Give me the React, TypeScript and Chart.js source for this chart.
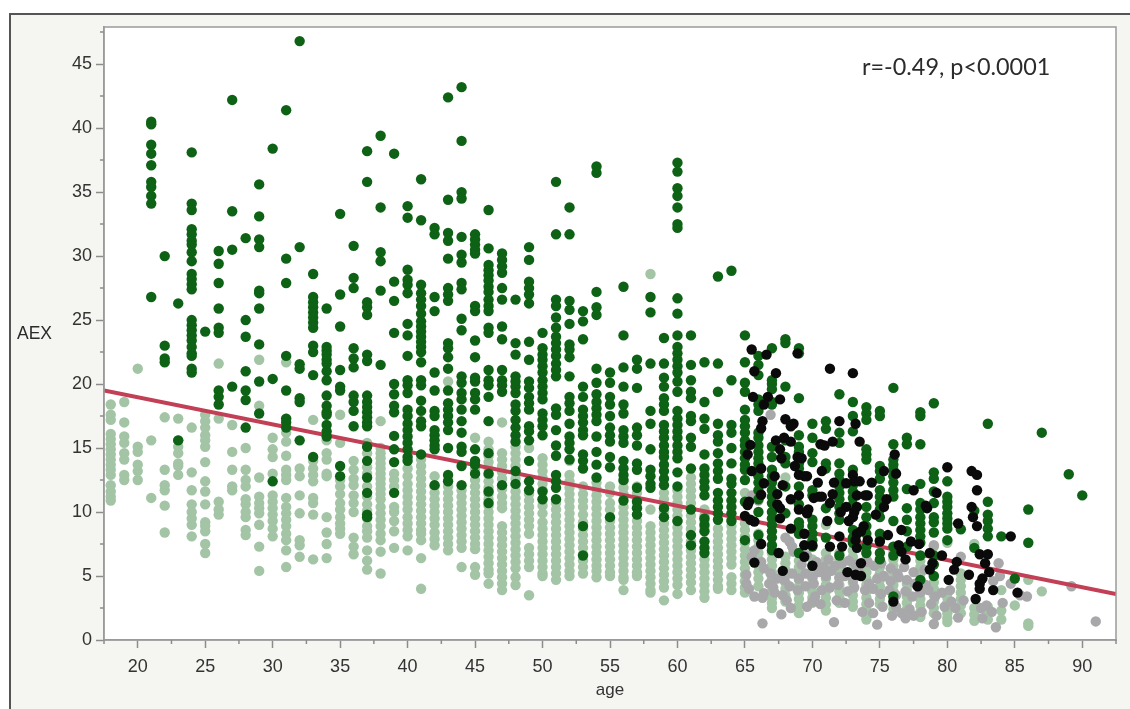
import React, { useEffect, useRef } from "react";
import { Chart, registerables } from "chart.js";

Chart.register(...registerables);

const xMajorTicks = [20, 25, 30, 35, 40, 45, 50, 55, 60, 65, 70, 75, 80, 85, 90];
const xMinorTicks = [17.5, 22.5, 27.5, 32.5, 37.5, 42.5, 47.5, 52.5, 57.5, 62.5, 67.5, 72.5, 77.5, 82.5, 87.5, 92.5];
const yMajorTicks = [0, 5, 10, 15, 20, 25, 30, 35, 40, 45];
const yMinorTicks = [2.5, 7.5, 12.5, 17.5, 22.5, 27.5, 32.5, 37.5, 42.5, 47.5];
const fitAge = [17.5, 92.5];
const fitAEX = [19.5, 3.6];

const darkByAge: Record<number, number[]> = {
  21: [40.5, 40.3, 38.7, 38.0, 37.1, 35.8, 35.4, 34.7, 34.1, 26.8],
  22: [30.0, 23.0, 22.0, 21.7],
  23: [26.3, 15.6],
  24: [38.1, 34.1, 33.6, 32.1, 31.7, 31.2, 30.9, 30.3, 29.6, 28.6, 28.2, 27.8, 27.4, 25.0, 24.6, 24.2, 23.8, 23.4, 22.9, 22.4, 22.2, 21.2, 20.9],
  25: [24.1],
  26: [30.4, 29.4, 27.9, 25.9, 24.4, 24.0, 19.5, 19.0, 18.4],
  27: [42.2, 33.5, 30.5, 19.8],
  28: [31.4, 25.0, 23.7, 21.0, 19.5, 18.75, 16.6],
  29: [35.6, 33.1, 31.3, 30.7, 27.3, 27.1, 25.9, 23.1, 20.2, 17.7],
  30: [38.4, 20.4, 12.4],
  31: [41.4, 29.8, 27.9, 22.2, 19.5, 17.3, 17.0, 16.6],
  32: [46.8, 30.7, 21.55, 21.2, 18.9, 18.6, 15.6],
  33: [28.6, 26.8, 26.4, 26.0, 25.6, 25.2, 24.8, 24.4, 23.0, 22.5, 20.7, 14.3],
  34: [25.9, 22.9, 22.6, 22.3, 21.9, 21.6, 21.0, 20.3, 19.1, 18.3, 17.8, 17.6, 16.8, 16.3, 15.9],
  35: [33.3, 27.0, 24.5, 21.1, 19.8, 19.5, 13.6, 12.8],
  36: [30.8, 28.3, 27.5, 22.8, 22.0, 21.3, 19.1, 18.6, 17.9, 16.7],
  37: [38.2, 35.8, 26.4, 26.0, 25.4, 22.3, 21.8, 19.1, 18.6, 18.2, 17.8, 17.4, 17.0, 16.7, 15.1, 14.0, 12.7, 11.5, 9.8, 9.6],
  38: [39.4, 33.8, 30.3, 29.6, 27.3, 21.5],
  39: [38.0, 28.0, 26.5, 24.0, 20.0, 19.2, 18.3, 17.8, 15.95, 14.9, 13.9, 11.5],
  40: [33.9, 33.0, 28.93, 28.15, 27.76, 27.1, 24.7, 23.8, 22.2, 20.3, 19.9, 19.3, 18.0, 17.5, 16.9, 16.4, 15.9, 15.4, 14.9, 14.3, 14.0],
  41: [36.0, 32.8, 27.76, 27.1, 26.6, 26.1, 25.5, 24.9, 24.5, 24.1, 23.7, 23.3, 22.9, 22.5, 21.7, 20.3, 19.9, 18.7, 17.9, 17.1, 16.7, 14.5],
  42: [32.2, 31.7, 26.8, 25.7, 20.9, 19.5, 17.9, 17.5, 16.4, 16.0, 15.6, 15.2, 14.9, 12.1],
  43: [42.4, 34.4, 31.8, 31.2, 29.8, 27.5, 27.0, 26.5, 23.2, 22.8, 22.1, 21.2, 19.5, 18.5, 18.0, 17.5, 17.0, 16.4, 15.0, 12.9, 12.4],
  44: [43.2, 39.0, 35.0, 34.5, 31.5, 30.1, 29.5, 27.9, 27.4, 25.1, 24.2, 20.6, 20.1, 19.3, 18.8, 18.0, 17.1, 16.2, 15.1, 14.7, 13.6, 12.1],
  45: [31.7, 31.3, 30.9, 30.5, 30.2, 26.1, 25.7, 23.4, 22.1, 20.5, 20.2, 19.3, 18.8, 18.0, 14.9, 14.0, 13.7, 13.0],
  46: [33.6, 30.6, 29.3, 28.9, 28.5, 28.1, 27.6, 27.2, 26.6, 26.1, 25.7, 24.4, 24.0, 21.1, 20.3, 19.9, 19.0, 17.1, 14.6, 13.0, 11.6, 10.7],
  47: [30.2, 29.7, 29.2, 28.7, 27.5, 26.6, 24.5, 23.5, 21.1, 20.3, 19.9, 19.4, 12.1],
  48: [26.6, 23.2, 22.3, 20.6, 20.2, 19.8, 19.3, 18.4, 17.9, 17.2, 16.6, 16.0, 15.5, 13.2, 12.2],
  49: [30.7, 29.7, 28.0, 27.5, 27.0, 26.3, 23.3, 21.9, 20.2, 19.7, 19.0, 18.5, 18.0, 16.7, 16.3, 15.6, 14.0, 12.4, 11.7],
  50: [24.0, 22.8, 22.3, 21.9, 21.4, 20.9, 20.3, 19.8, 19.3, 18.8, 17.7, 17.2, 16.7, 16.0, 11.6, 11.0],
  51: [35.8, 31.7, 26.6, 26.1, 25.2, 24.4, 23.7, 23.2, 22.7, 22.2, 21.6, 21.1, 20.6, 18.1, 17.6, 16.4, 15.2, 14.4, 12.9, 12.4, 11.9, 11.0],
  52: [33.8, 31.7, 26.5, 25.8, 24.7, 23.1, 22.7, 22.1, 20.6, 19.0, 18.5, 17.9, 16.9, 15.9, 15.4, 14.9, 14.1],
  53: [25.7, 24.9, 23.5, 19.8, 19.0, 18.0, 17.5, 17.0, 16.4, 16.0, 14.5, 14.0, 13.4, 8.9, 6.6],
  54: [37.0, 36.5, 27.2, 26.0, 25.4, 21.2, 20.1, 19.2, 18.6, 18.1, 17.6, 17.1, 15.9, 14.7, 13.7, 12.7],
  55: [20.9, 20.1, 19.0, 18.4, 17.5, 16.6, 16.0, 15.5, 14.3, 13.5, 9.6],
  56: [27.6, 23.8, 21.3, 19.8, 18.4, 17.7, 16.4, 15.9, 15.4, 14.0, 13.4, 12.9, 12.5, 10.9],
  57: [21.9, 21.2, 19.7, 16.6, 16.0, 15.2, 13.8, 13.3, 11.9, 10.8, 10.3, 9.8],
  58: [26.8, 25.6, 21.6, 17.9, 16.9, 14.9, 13.3, 12.8, 12.2, 11.9],
  59: [23.6, 21.6, 20.5, 19.8, 18.9, 18.4, 17.9, 16.8, 16.3, 15.8, 15.2, 14.7, 14.3, 13.7, 13.2, 12.6, 12.1, 10.3, 9.6],
  60: [37.3, 36.6, 35.3, 34.7, 33.8, 32.5, 32.2, 26.7, 25.5, 23.8, 22.9, 22.4, 21.9, 21.4, 20.9, 20.2, 19.4, 17.9, 17.3, 16.8, 16.3, 15.8, 15.2, 14.7, 14.2, 13.1, 12.0, 9.3],
  61: [23.8, 21.5, 20.3, 19.4, 18.9, 17.5, 17.1, 15.8, 15.1, 13.4, 10.2, 8.2, 7.4],
  62: [21.7, 18.6, 17.3, 16.5, 14.5, 13.4, 12.9, 12.4, 11.9, 11.3, 9.5, 9.0, 8.5, 7.7, 7.2, 6.8],
  63: [28.4, 21.6, 19.4, 16.9, 16.0, 15.5, 14.6, 13.8, 13.2, 12.6, 11.5, 10.9, 10.4, 9.9, 9.4],
  64: [28.85, 20.3, 16.8, 16.2, 15.0, 13.8, 12.6, 12.2, 11.5, 10.9, 10.4, 9.9, 9.3],
  65: [23.8, 21.7, 20.1, 19.4, 18.0, 17.2, 16.7, 16.2, 15.6, 15.2, 14.7, 14.2, 13.7, 13.3, 12.5, 10.8, 7.8],
  66: [22.2, 21.5, 20.7, 18.8, 18.4, 17.9, 16.2, 15.8, 15.2, 14.7, 14.2, 13.8, 13.3, 12.8, 12.3, 11.7, 11.0, 10.0, 8.2],
  67: [22.8, 20.3, 20.0, 19.6, 18.6, 18.4, 15.1, 14.3, 13.3, 12.8, 12.3, 11.7, 11.2, 10.7, 10.0, 9.5, 9.0, 8.5, 8.0, 7.4, 7.0],
  68: [23.5, 23.2, 19.8, 15.6, 14.3, 13.8, 12.0, 9.9],
  69: [22.8, 22.4, 18.9, 16.0, 15.1, 14.7, 13.8, 13.4, 12.0, 10.6, 9.2, 8.9, 8.3, 6.8],
  70: [16.9, 15.8, 14.6, 13.9, 11.7, 11.3, 9.4, 8.9, 8.3, 7.8, 7.3],
  71: [17.1, 16.5, 13.8, 13.4, 10.3, 8.0],
  72: [19.2, 16.2, 15.4, 13.8, 13.0, 12.5, 12.0, 11.5, 11.0, 10.4, 9.9, 9.4, 6.6],
  73: [18.6, 17.5, 16.3, 13.3, 12.1, 11.6, 11.1, 10.6, 8.6, 8.0, 7.6],
  74: [18.2, 17.7, 17.2, 14.9, 14.5, 14.1, 11.3, 10.4, 9.6, 8.9, 8.3, 7.3, 6.8],
  75: [17.9, 17.5, 13.6, 13.2, 12.6, 11.7, 11.2, 10.7, 10.2, 9.6, 8.3, 7.8, 6.8, 6.3],
  76: [19.7, 15.3, 14.1, 13.7, 13.3, 12.8, 12.3, 11.7, 11.2, 9.3, 7.3, 6.6, 3.4],
  77: [15.8, 15.3, 11.8, 10.3, 9.4, 8.5, 7.3],
  78: [17.8, 17.5, 15.3, 12.2, 10.7, 10.2, 9.6, 9.1, 8.6, 8.1, 7.6, 6.6, 4.7],
  79: [18.5, 13.1, 12.6, 11.6, 10.7, 9.6, 9.2, 8.4, 6.6, 5.9, 5.0],
  80: [12.4, 11.2, 10.8, 10.4, 9.9, 9.5, 9.1, 8.7, 7.8],
  81: [8.65],
  82: [10.1, 7.2],
  83: [16.9, 10.8, 9.8, 9.3, 8.7, 8.1],
  84: [8.1],
  85: [4.8],
  86: [10.2, 7.6],
  87: [16.2],
  89: [12.95],
  90: [11.3],
};

const lightByAge: Record<number, number[]> = {
  18: [18.4, 17.6, 17.2, 16.1, 15.7, 15.3, 14.9, 14.5, 14.1, 13.7, 13.3, 12.9, 12.1, 11.6, 11.2, 10.9],
  19: [18.6, 17.0, 15.9, 15.4, 14.6, 14.1, 12.9, 12.5],
  20: [21.2, 15.1, 14.7, 13.7, 13.2, 12.5],
  21: [15.6, 11.1],
  22: [17.4, 13.3, 12.1, 11.7, 10.5, 8.4],
  23: [17.3, 15.6, 15.1, 14.6, 13.8, 13.6, 12.9],
  24: [16.6, 13.1, 11.7, 10.6, 10.0, 9.5, 9.0, 8.1],
  25: [17.6, 17.1, 16.6, 16.0, 15.6, 15.1, 13.9, 12.4, 11.6, 10.6, 9.2, 8.9, 8.5, 7.5, 6.8],
  26: [21.6, 17.3, 10.8, 10.2, 9.8],
  27: [16.8, 14.7, 13.3, 12.0, 11.7],
  28: [15.0, 13.3, 12.5, 12.0, 11.0, 10.6, 10.0, 9.6, 8.6, 8.2],
  29: [21.9, 18.3, 12.7, 11.2, 10.7, 10.3, 9.9, 9.0, 7.3, 5.4],
  30: [15.8, 14.9, 14.3, 13.0, 11.3, 10.8, 10.3, 9.8, 9.3, 8.7, 8.1],
  31: [21.7, 17.3, 16.2, 15.5, 14.4, 13.3, 12.9, 12.5, 11.1, 10.4, 9.9, 9.4, 8.9, 8.3, 7.8, 7.0, 5.7],
  32: [13.4, 12.8, 11.3, 9.9, 7.8, 7.4, 6.5],
  33: [17.2, 14.0, 13.4, 12.9, 12.4, 11.1, 10.7, 9.8, 6.3],
  34: [15.6, 14.6, 14.1, 13.0, 12.8, 9.6, 8.4, 7.5, 6.4],
  35: [17.6, 15.4, 12.5, 12.0, 11.4, 10.7, 10.2, 9.6, 9.1, 8.7, 8.3],
  36: [14.0, 13.3, 12.6, 12.1, 11.3, 10.7, 10.0, 8.0, 7.3, 6.7],
  37: [15.4, 14.6, 13.5, 13.0, 12.0, 11.2, 10.6, 10.1, 9.5, 8.9, 8.5, 8.0, 7.0, 6.2, 5.5],
  38: [17.1, 15.0, 14.6, 14.2, 13.8, 13.4, 13.0, 12.6, 12.2, 11.8, 11.4, 11.0, 10.4, 9.9, 9.4, 8.9, 8.3, 7.8, 6.9, 5.2],
  39: [13.0, 12.5, 12.0, 10.4, 10.0, 9.3, 8.5, 7.2],
  40: [13.4, 12.8, 12.2, 11.7, 11.2, 10.7, 10.2, 9.6, 9.1, 8.6, 8.1, 7.0],
  41: [14.1, 13.6, 13.1, 12.6, 12.1, 11.6, 11.1, 10.6, 10.1, 9.6, 9.1, 8.6, 8.3, 7.8, 6.4, 4.0],
  42: [12.8, 12.0, 11.5, 11.0, 10.5, 10.0, 9.5, 9.0, 8.4, 7.9, 7.4],
  43: [20.2, 12.5, 12.0, 11.5, 11.0, 10.5, 10.0, 9.5, 9.0, 8.5, 8.0, 7.5, 7.0],
  44: [11.7, 11.2, 10.7, 10.2, 9.7, 9.2, 8.7, 8.2, 7.7, 7.2, 5.7],
  45: [15.8, 13.4, 12.5, 12.0, 11.5, 11.0, 10.5, 10.0, 9.5, 9.0, 8.5, 8.0, 7.5, 7.1, 5.7, 5.1],
  46: [15.5, 14.9, 14.4, 13.9, 13.4, 12.9, 12.4, 11.9, 11.4, 11.0, 10.5, 10.0, 9.5, 9.0, 8.5, 8.0, 7.5, 7.0, 6.5, 6.0, 5.5, 5.2, 4.4],
  47: [17.0, 14.6, 14.1, 13.6, 13.1, 12.6, 11.8, 11.2, 10.7, 10.3, 8.9, 8.4, 7.9, 7.4, 6.9, 6.4, 5.9, 5.4, 4.9, 4.4, 3.9],
  48: [15.1, 14.6, 14.1, 13.6, 13.1, 12.6, 12.1, 11.6, 11.1, 10.6, 10.1, 9.6, 9.1, 8.6, 8.1, 7.6, 7.1, 6.6, 6.1, 5.6, 4.9, 4.3],
  49: [15.0, 11.4, 10.9, 10.4, 9.9, 9.4, 8.9, 8.3, 7.2, 6.7, 6.2, 5.7, 3.5],
  50: [14.2, 13.7, 13.2, 12.7, 12.2, 11.7, 11.0, 10.5, 9.9, 9.2, 8.7, 8.2, 7.7, 7.2, 6.7, 6.2, 5.7, 5.2, 5.0],
  51: [10.7, 10.2, 9.7, 9.2, 8.7, 8.2, 7.7, 7.2, 6.7, 6.2, 5.7, 5.2, 4.7],
  52: [14.0, 12.9, 12.4, 11.9, 11.4, 10.9, 10.4, 9.9, 9.4, 8.9, 8.4, 7.9, 7.4, 6.9, 6.4, 5.9, 5.4, 5.0],
  53: [12.0, 11.4, 10.9, 10.4, 9.8, 9.2, 8.7, 8.2, 7.7, 7.2, 6.7, 6.2, 5.7, 5.2],
  54: [12.3, 11.8, 11.3, 10.8, 10.3, 9.8, 9.3, 8.8, 8.3, 7.8, 7.3, 6.8, 6.3, 5.8, 5.4, 4.9],
  55: [12.0, 11.5, 10.7, 10.2, 9.3, 8.8, 8.3, 7.8, 7.3, 6.8, 6.3, 5.8, 5.3, 5.0],
  56: [12.4, 11.9, 11.4, 10.4, 9.9, 9.4, 8.9, 8.4, 7.9, 7.4, 6.9, 6.4, 5.9, 5.4, 4.9, 4.7, 3.9],
  57: [12.0, 11.5, 10.9, 10.4, 9.8, 9.3, 8.8, 8.3, 7.8, 7.3, 6.8, 6.3, 5.8, 5.3, 5.0],
  58: [28.6, 10.2, 8.9, 8.4, 7.9, 7.4, 6.9, 6.4, 5.9, 5.4, 4.9, 4.4, 3.9, 3.7],
  59: [11.5, 11.0, 10.5, 10.0, 9.6, 9.1, 8.6, 8.1, 7.6, 7.1, 6.6, 6.1, 5.6, 5.1, 4.6, 4.1, 3.1],
  60: [11.7, 11.2, 10.7, 10.2, 9.7, 9.3, 8.8, 8.3, 7.8, 7.3, 6.8, 6.3, 5.8, 5.3, 4.8, 4.3, 3.6],
  61: [12.7, 12.2, 11.7, 11.2, 10.7, 9.7, 9.2, 8.7, 8.2, 7.7, 7.4, 7.0, 6.5, 6.0, 5.5, 5.0, 4.5, 3.9],
  62: [10.2, 9.7, 9.3, 8.8, 6.3, 5.8, 5.3, 4.8, 4.3, 3.8, 3.3],
  63: [8.7, 8.2, 7.7, 7.2, 6.7, 6.2, 5.7, 5.2, 4.7, 4.2, 4.0],
  64: [9.4, 8.9, 8.4, 7.9, 7.4, 6.9, 6.4, 5.9, 4.9, 4.4, 3.9],
  65: [11.5, 9.1, 8.6, 8.1, 7.6, 7.1, 6.6, 6.1, 5.6, 5.1, 4.6, 4.1, 3.7],
  66: [8.3, 7.8, 7.3, 6.8, 6.3, 5.8, 5.3, 4.8, 4.2],
  67: [6.8, 6.3, 5.8, 5.3, 4.8, 4.3, 3.8, 3.3, 2.9, 2.5],
  68: [12.7, 6.5, 6.0, 5.5, 5.0, 4.5, 4.0, 3.5, 3.0],
  69: [6.2, 5.7, 5.2, 4.7, 4.2, 3.7, 3.2, 2.7, 2.1],
  70: [6.3, 5.8, 5.3, 4.8, 4.3, 3.8, 3.3, 2.9],
  71: [9.0, 6.8, 6.3, 5.8, 5.3, 4.8, 4.3, 3.8, 3.3, 2.8, 2.3],
  72: [6.8, 6.3, 5.8, 5.3, 4.8, 4.3, 3.8, 3.3, 2.9],
  73: [7.0, 6.5, 6.0, 5.5, 5.0, 4.5, 4.0, 3.5, 3.0, 2.6],
  74: [6.8, 6.3, 5.8, 5.3, 4.8, 4.3, 3.8, 3.3, 2.8, 2.3, 1.9, 1.6],
  75: [6.2, 5.7, 5.2, 4.7, 4.2, 3.7, 3.2, 2.8],
  76: [7.3, 6.8, 6.3, 5.8, 5.3, 4.8, 4.3, 3.8, 3.3, 2.8, 2.4],
  77: [4.4, 3.9, 3.4, 2.9, 2.4],
  78: [6.2, 5.7, 5.2, 4.7, 4.2, 3.7, 3.2, 2.7, 2.2, 1.8],
  79: [7.3, 5.0, 4.5, 4.0, 3.5, 3.0, 2.5, 2.1],
  80: [7.6, 3.7, 3.3, 2.9, 2.5, 2.1, 1.7, 1.4],
  81: [5.2, 4.7, 4.2, 3.7, 3.2, 2.7, 2.1],
  82: [7.5, 2.5, 2.0, 1.5],
  83: [2.6, 2.1, 1.6],
  84: [3.9, 2.3, 1.6],
  85: [2.7],
  86: [4.7, 1.3, 1.1],
  87: [3.8],
};

const grayPoints: [number, number][] = [
  [66.9, 17.6], [65.5, 11.3], [66.0, 10.9], [65.7, 7.0], [65.5, 6.5], [66.2, 6.1], [66.4, 5.6], [65.1, 5.1], [65.1, 4.4], [65.3, 4.0],
  [65.7, 3.4], [66.3, 3.3], [66.4, 3.65], [66.8, 4.4], [67.1, 4.1], [67.4, 4.8], [67.9, 4.7], [66.9, 5.2], [67.2, 3.7], [67.8, 3.5],
  [68.3, 7.7], [68.0, 8.0], [68.5, 7.3], [68.1, 3.1], [68.4, 2.5], [67.7, 2.0], [66.3, 1.3], [71.6, 1.4], [74.8, 1.2], [69.6, 2.6], [70.2, 3.4],
  [68.6, 6.9], [69.2, 5.9], [69.6, 6.6], [70.3, 6.1], [70.8, 5.7], [71.2, 6.3], [71.7, 5.8], [72.2, 6.0], [72.7, 6.2], [73.2, 5.9], [74.1, 6.1], [74.6, 5.8], [75.1, 6.0], [75.8, 5.6], [76.3, 5.2], [76.8, 5.7], [77.5, 5.3], [78.3, 5.5],
  [68.5, 5.2], [69.0, 4.8], [69.5, 5.2], [70.0, 4.9], [70.5, 5.3], [71.0, 5.0], [71.4, 5.4], [72.0, 4.9], [72.4, 5.0], [73.0, 4.7], [73.5, 5.2], [74.2, 4.4], [74.8, 4.8], [75.3, 5.0], [75.8, 4.6], [76.4, 4.9], [77.0, 4.7], [77.6, 4.4], [78.4, 4.3],
  [68.3, 4.2], [68.9, 3.9], [69.5, 4.2], [70.1, 4.4], [70.7, 3.9], [71.3, 4.1], [71.9, 4.3], [72.6, 3.8], [73.1, 4.1], [73.9, 3.9], [74.5, 4.0], [75.1, 3.6], [75.7, 3.9], [76.2, 3.5], [76.9, 3.8], [77.4, 3.4], [78.0, 3.7], [78.6, 3.9], [79.1, 3.4], [79.6, 3.7], [80.2, 3.9],
  [70.0, 3.0], [70.6, 2.8], [71.8, 3.1], [72.4, 2.9], [73.7, 2.2], [74.2, 2.9], [74.5, 2.1], [75.2, 2.6], [75.9, 1.9], [76.2, 2.6], [76.6, 2.1], [76.9, 1.7], [77.2, 2.4], [77.5, 1.9], [78.1, 2.2], [78.8, 2.8], [79.2, 1.9], [79.0, 1.25], [79.8, 2.6], [80.3, 3.0], [80.6, 2.5], [81.2, 3.1], [80.8, 1.75],
  [81.0, 6.5], [83.8, 6.0], [83.9, 5.0], [83.4, 4.6], [84.7, 4.4], [85.9, 3.4], [85.4, 3.5], [84.1, 2.9], [83.6, 1.0], [82.9, 2.7], [82.5, 2.5], [83.3, 2.2], [82.6, 1.7], [79.0, 7.4], [89.2, 4.2], [91.0, 1.45],
];

const blackPoints: [number, number][] = [
  [65.5, 22.7], [66.6, 22.3], [65.7, 21.0], [67.3, 20.85], [65.6, 19.0], [66.7, 19.0], [67.6, 18.8], [66.4, 18.4], [68.0, 17.25], [66.3, 17.1], [66.2, 16.55], [68.6, 16.9], [68.4, 16.7], [72.0, 17.1], [73.2, 16.9], [71.3, 21.2], [73.0, 20.85], [68.9, 22.4],
  [67.3, 15.6], [67.9, 15.8], [68.4, 15.5], [65.4, 15.25], [65.2, 14.5], [67.6, 14.9], [67.7, 14.2], [70.6, 15.3], [70.9, 15.2], [71.5, 15.5], [73.5, 15.5], [68.9, 14.3], [69.2, 14.2], [68.7, 13.6], [66.2, 13.4], [65.5, 13.2], [76.1, 14.5],
  [70.7, 13.2], [69.0, 12.9], [69.6, 12.8], [69.4, 12.8], [67.2, 12.8], [73.0, 12.9], [73.1, 12.4], [73.5, 12.4], [75.3, 13.2], [76.2, 13.0], [70.4, 12.3], [66.4, 12.25], [72.5, 12.25], [71.6, 12.3], [74.4, 12.3],
  [66.2, 11.35], [67.4, 11.4], [67.8, 12.1], [69.0, 11.3], [70.1, 11.1], [70.5, 11.2], [70.7, 11.2], [68.4, 11.0], [71.5, 11.4], [73.3, 11.3], [74.1, 11.3], [73.9, 11.3], [75.5, 11.0], [75.3, 10.4], [77.5, 11.7],
  [67.4, 10.6], [67.6, 10.3], [65.3, 10.8], [65.2, 10.55], [69.0, 10.2], [69.7, 10.2], [69.6, 9.9], [71.3, 10.7], [72.5, 10.4], [72.1, 10.0], [73.3, 10.4], [73.1, 10.0], [73.0, 9.6], [72.7, 9.3], [74.7, 9.8],
  [65.0, 9.7], [65.4, 9.4], [65.7, 9.25], [67.6, 9.5], [71.1, 9.3], [73.8, 8.9], [68.4, 8.7], [73.6, 8.5], [73.3, 8.3], [69.4, 8.3], [69.4, 7.4], [70.0, 7.4], [66.2, 7.5], [71.3, 7.3], [72.0, 8.1], [72.2, 7.3], [73.2, 7.8], [73.3, 7.2], [74.1, 7.8], [75.0, 7.7],
  [75.6, 8.2], [76.6, 8.6], [76.4, 7.4], [76.6, 6.9], [76.9, 6.3], [77.3, 7.7], [67.5, 6.8], [69.4, 6.5], [70.0, 5.8], [65.7, 6.05], [67.8, 5.4], [72.6, 5.3], [73.2, 5.1], [73.6, 5.0], [73.6, 6.0], [77.8, 4.2], [76.0, 3.0],
  [79.2, 11.5], [78.5, 10.3], [78.4, 10.5], [80.0, 13.5], [81.8, 13.2], [82.2, 12.9], [82.2, 11.7], [81.8, 10.4], [81.9, 9.6], [82.2, 8.9], [80.8, 9.1], [84.7, 8.1], [77.9, 7.5], [78.7, 6.8], [79.6, 6.6], [78.9, 6.0], [78.7, 5.5],
  [82.4, 6.7], [83.0, 6.7], [82.8, 6.0], [83.1, 5.3], [80.7, 6.1], [80.5, 5.5], [81.6, 5.1], [80.1, 4.7], [82.6, 4.8], [82.4, 4.4], [82.4, 4.0], [83.4, 3.9], [82.1, 3.2], [85.2, 3.7],
];

const toPoints = (table: Record<number, number[]>) =>
  Object.entries(table).flatMap(([age, values]) => values.map((v) => ({ x: Number(age), y: v })));

const stylePlugin = {
  id: "jmpFrame",
  beforeDraw(chart: any) {
    const { ctx, chartArea: a, width, height } = chart;
    ctx.save();
    ctx.fillStyle = "#ffffff";
    ctx.fillRect(0, 0, width, height);
    ctx.fillStyle = "#f5f5f1";
    ctx.fillRect(10, 14, width - 10, height - 14);
    ctx.fillStyle = "#555555";
    ctx.fillRect(9, 13, width - 9, 2);
    ctx.fillRect(9, 13, 2, height - 13);
    ctx.fillStyle = "#ffffff";
    ctx.fillRect(a.left, a.top, a.right - a.left, a.bottom - a.top);
    ctx.restore();
  },
  afterDraw(chart: any) {
    const { ctx, chartArea: a, scales } = chart;
    ctx.save();
    ctx.strokeStyle = "#9a9a9a";
    ctx.lineWidth = 1.5;
    ctx.strokeRect(a.left, a.top, a.right - a.left, a.bottom - a.top);
    ctx.strokeStyle = "#8c8c8c";
    ctx.beginPath();
    xMinorTicks.forEach((v) => {
      const p = scales.x.getPixelForValue(v);
      ctx.moveTo(p, a.bottom);
      ctx.lineTo(p, a.bottom + 4);
    });
    yMinorTicks.forEach((v) => {
      const p = scales.y.getPixelForValue(v);
      ctx.moveTo(a.left, p);
      ctx.lineTo(a.left - 4, p);
    });
    ctx.stroke();
    ctx.fillStyle = "#2b2b2b";
    ctx.textBaseline = "alphabetic";
    ctx.textAlign = "left";
    ctx.font = '17.5px "Liberation Sans"';
    ctx.fillText("AEX", 17, 339);
    ctx.font = '23.4px Lato';
    ctx.fillText("r=-0.49, p<0.0001", 862, 75);
    ctx.restore();
  },
};

export default function App() {
  const ref = useRef<HTMLCanvasElement>(null);
  useEffect(() => {
    const base = { showLine: false, pointRadius: 5.2, pointHoverRadius: 5.2, pointBorderWidth: 0 };
    const chart = new Chart(ref.current!, {
      type: "scatter",
      data: {
        datasets: [
          { ...base, label: "black", data: blackPoints.map(([x, y]) => ({ x, y })), pointBackgroundColor: "#0a0a0a" },
          { ...base, label: "dark green", data: toPoints(darkByAge), pointBackgroundColor: "#0e6215" },
          {
            label: "fit",
            data: fitAge.map((x, i) => ({ x, y: fitAEX[i] })),
            showLine: true,
            borderColor: "#c23f55",
            borderWidth: 4,
            pointRadius: 0,
          },
          { ...base, label: "gray", data: grayPoints.map(([x, y]) => ({ x, y })), pointBackgroundColor: "#a8a8aa" },
          { ...base, label: "light green", data: toPoints(lightByAge), pointBackgroundColor: "#a3c5a6" },
        ],
      },
      options: {
        animation: false,
        responsive: false,
        layout: { padding: { left: 0, right: 14, top: 27, bottom: 0 } },
        plugins: { legend: { display: false }, tooltip: { enabled: false } },
        scales: {
          x: {
            type: "linear",
            min: 17.5,
            max: 92.5,
            afterBuildTicks: (s: any) => { s.ticks = xMajorTicks.map((value) => ({ value })); },
            afterFit: (s: any) => { s.height = 69; },
            grid: { drawOnChartArea: false, tickLength: 8, tickColor: "#8c8c8c", tickWidth: 1.5 },
            border: { color: "#9a9a9a", width: 1.5 },
            ticks: { color: "#333333", padding: 8, maxRotation: 0, autoSkip: false, font: { family: "Liberation Sans", size: 18 } },
            title: { display: true, text: "age", color: "#333333", padding: { top: 0, bottom: 8 }, font: { family: "Liberation Sans", size: 17 } },
          },
          y: {
            type: "linear",
            min: 0,
            max: 47.9,
            afterBuildTicks: (s: any) => { s.ticks = yMajorTicks.map((value) => ({ value })); },
            afterFit: (s: any) => { s.width = 104; },
            grid: { drawOnChartArea: false, tickLength: 8, tickColor: "#8c8c8c", tickWidth: 1.5 },
            border: { color: "#9a9a9a", width: 1.5 },
            ticks: { color: "#333333", padding: 4, autoSkip: false, font: { family: "Liberation Sans", size: 18 } },
          },
        },
      },
      plugins: [stylePlugin],
    } as any);
    return () => chart.destroy();
  }, []);
  return (
    <div style={{ position: "fixed", left: 0, top: 0, width: 1130, height: 709 }}>
      <canvas ref={ref} width={1130} height={709} style={{ display: "block" }} />
    </div>
  );
}
